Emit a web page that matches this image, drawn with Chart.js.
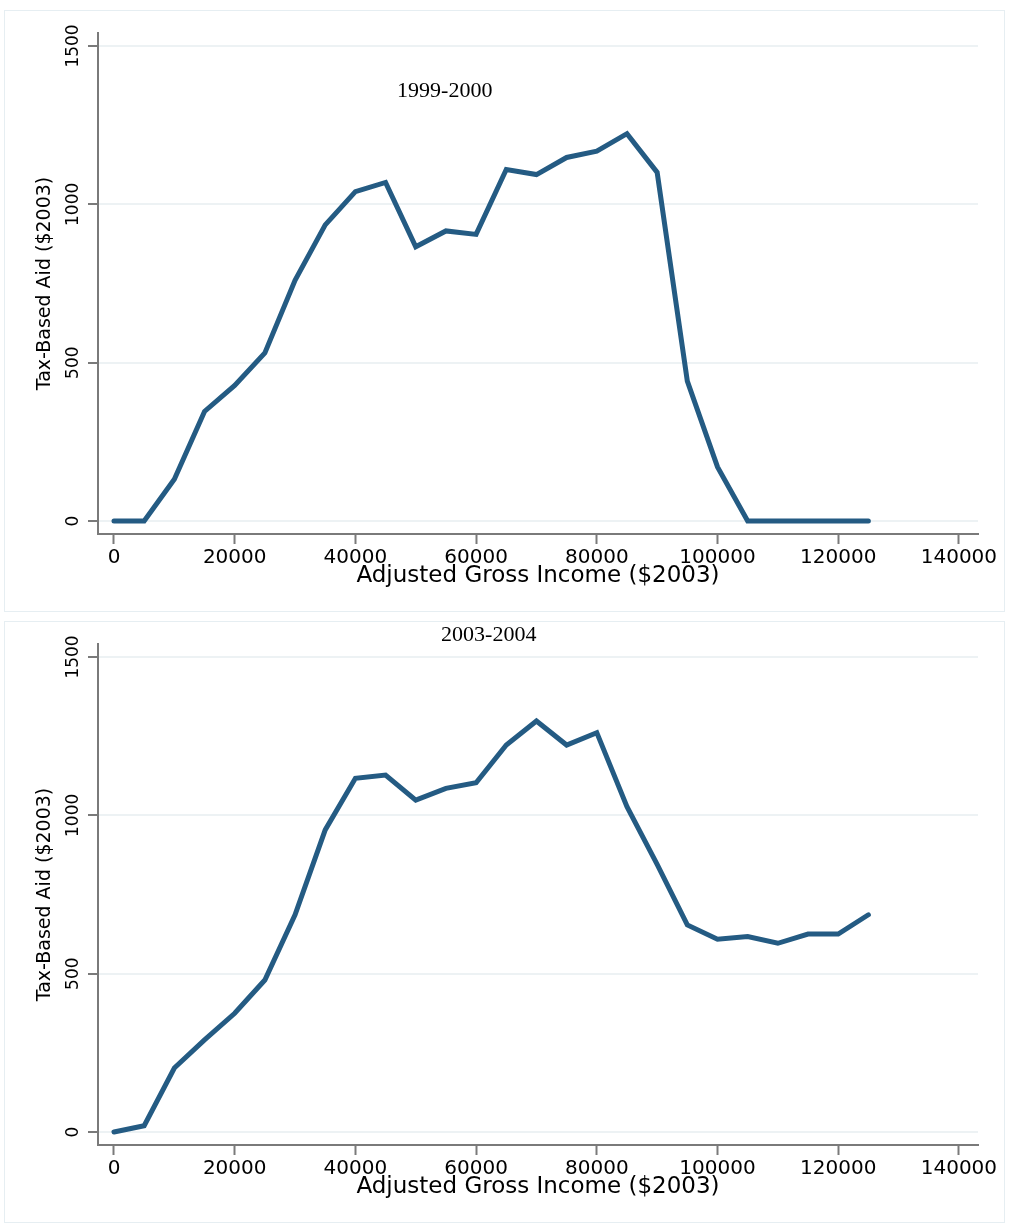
<!DOCTYPE html>
<html>
<head>
<meta charset="utf-8">
<script src="https://cdn.jsdelivr.net/npm/chart.js@4"></script>
<style>
  body { margin: 0; background: #fff; }
  .panel { position: absolute; left: 4px; width: 999px; height: 600px; border: 1px solid #e6eef2; }
  #top { top: 10px; }
  #bottom { top: 621px; }
  canvas { display: block; }
</style>
</head>
<body>
<div class="panel" id="top"><canvas id="chart1999" width="999" height="600"></canvas></div>
<div class="panel" id="bottom"><canvas id="chart2003" width="999" height="600"></canvas></div>
<script>
// adjusted gross income bins ($2003)
const incomeLevels = [0, 5000, 10000, 15000, 20000, 25000, 30000, 35000, 40000, 45000,
	50000, 55000, 60000, 65000, 70000, 75000, 80000, 85000, 90000, 95000,
	100000, 105000, 110000, 115000, 120000, 125000];

// tax-based aid ($2003)
const aid1999 = [0, 0, 132, 346, 428, 531, 760, 935, 1040, 1069,
	866, 916, 905, 1110, 1094, 1148, 1168, 1223, 1101, 442,
	171, 0, 0, 0, 0, 0];
const aid2003 = [0, 20, 202, 291, 375, 480, 686, 954, 1117, 1127,
	1048, 1085, 1103, 1222, 1298, 1222, 1261, 1027, 845, 654,
	609, 617, 596, 625, 625, 686];

const xTicks = [0, 20000, 40000, 60000, 80000, 100000, 120000, 140000];
const yTicks = [0, 500, 1000, 1500];

const sans = "DejaVu Sans";
const axisGray = "#7a7a7a";

const periodLabel = {
	id: "periodLabel",
	afterDatasetsDraw(chart, args, opts) {
		const { ctx, scales } = chart;
		ctx.save();
		ctx.font = '22px "Liberation Serif"';
		ctx.fillStyle = "#000";
		ctx.textAlign = "center";
		ctx.textBaseline = "middle";
		ctx.fillText(opts.text, scales.x.getPixelForValue(opts.x), scales.y.getPixelForValue(opts.y));
		ctx.restore();
	},
};

function createChart(canvasId, values, period, labelX, labelY) {
	new Chart(document.getElementById(canvasId), {
		type: "line",
		data: {
			datasets: [
				{
					data: incomeLevels.map((inc, i) => ({ x: inc, y: values[i] })),
					borderColor: "#245b83",
					borderWidth: 5,
					borderCapStyle: "round",
					borderJoinStyle: "miter",
					pointRadius: 0,
					tension: 0,
					fill: false,
				},
			],
		},
		options: {
			responsive: false,
			animation: false,
			layout: { padding: { top: 22, right: 26, left: 0, bottom: 0 } },
			plugins: {
				legend: { display: false },
				tooltip: { enabled: false },
				periodLabel: { text: period, x: labelX, y: labelY },
			},
			scales: {
				x: {
					type: "linear",
					min: -2650,
					max: 143165,
					afterFit: (s) => { s.height = 77; },
					afterBuildTicks: (s) => { s.ticks = xTicks.map((v) => ({ value: v })); },
					border: { color: axisGray, width: 2 },
					grid: { drawOnChartArea: false, tickLength: 10, tickColor: axisGray, tickWidth: 2 },
					ticks: {
						padding: 2,
						color: "#000",
						font: { family: sans, size: 20 },
						maxRotation: 0,
						callback: (v) => String(v),
					},
					title: {
						display: true,
						text: "Adjusted Gross Income ($2003)",
						color: "#000",
						font: { family: sans, size: 23 },
						padding: { top: 0, bottom: 21 },
					},
				},
				y: {
					min: -41,
					max: 1541,
					afterFit: (s) => { s.width = 93; },
					afterBuildTicks: (s) => { s.ticks = yTicks.map((v) => ({ value: v })); },
					border: { color: axisGray, width: 2 },
					grid: { color: "#edf2f4", lineWidth: 2, tickLength: 10, tickColor: axisGray, tickWidth: 2 },
					ticks: {
						padding: -7,
						color: "#000",
						font: { family: sans, size: 17 },
						minRotation: 90,
						maxRotation: 90,
						crossAlign: "center",
						callback: (v) => String(v),
					},
					title: {
						display: true,
						text: "Tax-Based Aid ($2003)",
						color: "#000",
						font: { family: sans, size: 19 },
						padding: { top: 29, bottom: 0 },
					},
				},
			},
		},
		plugins: [periodLabel],
	});
}

createChart("chart1999", aid1999, "1999-2000", 54800, 1358);
createChart("chart2003", aid2003, "2003-2004", 62100, 1570);
</script>
</body>
</html>
